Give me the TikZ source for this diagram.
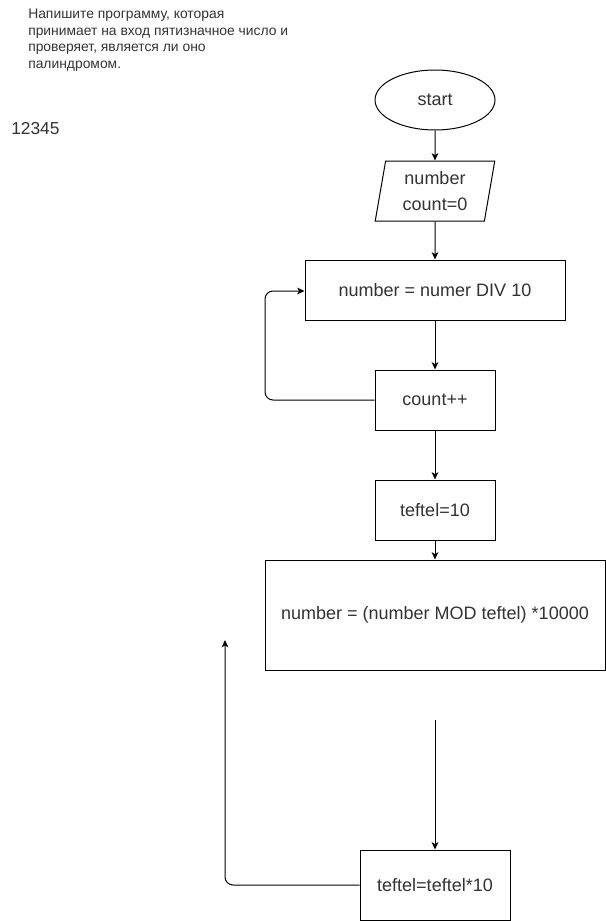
\documentclass[tikz,border=0pt]{standalone}
\usepackage{fontspec}
\setmainfont{Liberation Sans}
\usetikzlibrary{shapes.geometric,arrows.meta}
\definecolor{txt}{HTML}{333333}
\begin{document}
\begin{tikzpicture}[x=0.75pt,y=-0.75pt,
  box/.style={draw=black,line width=0.75pt,fill=white,inner sep=0pt,align=center,font=\fontsize{13.5pt}{15.5pt}\selectfont,text=txt},
  arr/.style={-{Stealth[length=5.5pt,width=5pt,inset=1.5pt]},line width=0.75pt,rounded corners=6pt}]
\useasboundingbox (0,0) rectangle (606,921);
\node[anchor=north west,inner sep=0pt,align=left,text=txt,font=\fontsize{10.4pt}{12.4pt}\selectfont] (task) at (28,9) {Напишите программу, которая\\принимает на вход пятизначное число и\\проверяет, является ли оно\\палиндромом.};
\node[anchor=west,inner sep=0pt,text=txt,font=\fontsize{13pt}{15pt}\selectfont] (num) at (11,129) {12345};
\node[box,ellipse,minimum width=90pt,minimum height=45pt] (start) at (435,100) {start};
\node[box,trapezium,trapezium left angle=80,trapezium right angle=100,minimum width=90pt,minimum height=45pt,trapezium stretches=true,font=\fontsize{13.5pt}{19pt}\selectfont] (inp) at (435,191) {number\\count=0};
\node[box,minimum width=195pt,minimum height=45pt] (div) at (435,290) {number = numer DIV 10};
\node[box,minimum width=90pt,minimum height=45pt] (cnt) at (435,400) {count++};
\node[box,minimum width=90pt,minimum height=45pt] (tef) at (435,510) {teftel=10};
\node[box,minimum width=255pt,minimum height=82.5pt] (mod) at (435,615) {number = (number MOD teftel) *10000};
\node[box,minimum width=112.5pt,minimum height=52.5pt] (mul) at (435,885) {teftel=teftel*10};
\coordinate (free) at (435,720);
\coordinate (up) at (225,640);
\draw[arr] (start) -- (inp);
\draw[arr] (inp) -- (div);
\draw[arr] (div) -- (cnt);
\draw[arr] (cnt.west) -- (265,400) -- (265,291) -- (div.west |- 0,291);
\draw[arr] (cnt) -- (tef);
\draw[arr] (tef) -- (mod);
\draw[arr] (free) -- (mul);
\draw[arr] (mul.west) -- (225,885) -- (up);
\end{tikzpicture}
\end{document}
